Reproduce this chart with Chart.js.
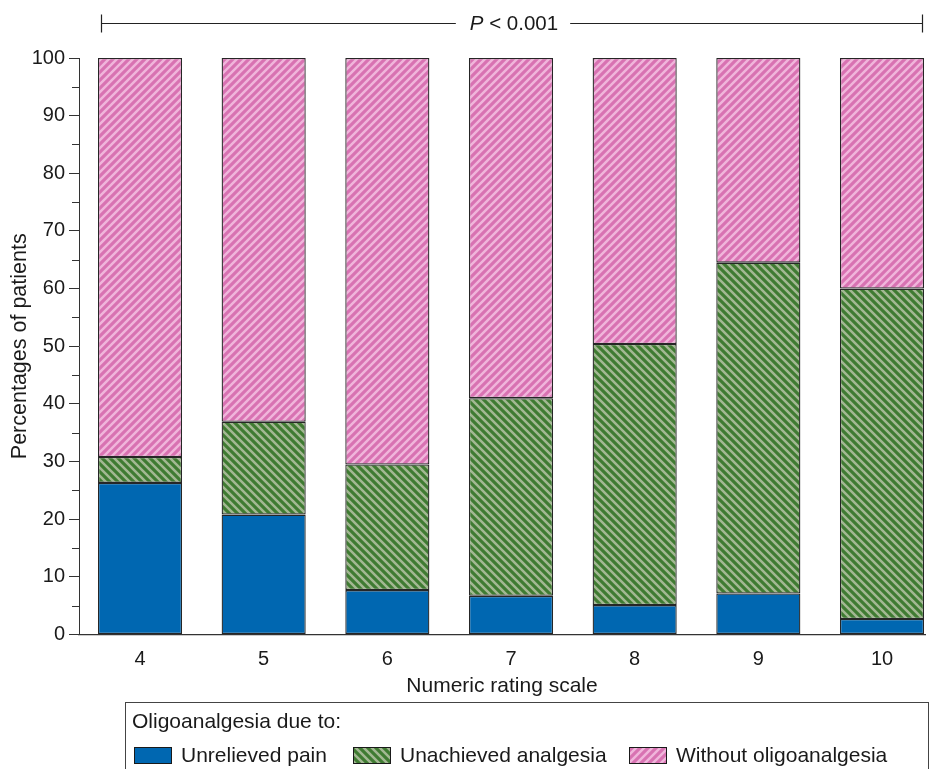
<!DOCTYPE html>
<html><head><meta charset="utf-8">
<script src="https://cdn.jsdelivr.net/npm/chart.js@4.4.0/dist/chart.umd.min.js"></script>
<style>html,body{margin:0;padding:0;background:#fff;overflow:hidden}#wrap{width:933px;height:769px;position:relative}</style>
</head><body><div id="wrap"><canvas id="c"></canvas></div>
<script>
// ---- data ----
const categories = [4, 5, 6, 7, 8, 9, 10];
const seriesNames = ['Unrelieved pain', 'Unachieved analgesia', 'Without oligoanalgesia'];
const unrelievedPain = [26.3, 20.8, 7.7, 6.7, 5.1, 7.1, 2.7];
const unachievedAnalgesia = [4.5, 16.1, 21.8, 34.3, 45.3, 57.4, 57.3];
const withoutOligoanalgesia = [69.2, 63.1, 70.5, 59.0, 49.6, 35.5, 40.0];
const yTickValues = [0, 10, 20, 30, 40, 50, 60, 70, 80, 90, 100];
const xTitle = 'Numeric rating scale';
const yTitle = 'Percentages of patients';
const legendTitle = 'Oligoanalgesia due to:';
const pLabelItalic = 'P';
const pLabelRest = ' < 0.001';

const FONT = '"Liberation Sans", Arial, Helvetica, sans-serif';

function stripes(base, stripe, dir) {
  const s = 8, c = document.createElement('canvas');
  c.width = s; c.height = s;
  const g = c.getContext('2d');
  g.fillStyle = base; g.fillRect(0, 0, s, s);
  g.strokeStyle = stripe; g.lineWidth = 2.5;
  g.beginPath();
  if (dir === '\\') {
    for (let k = -s; k <= s; k += s) { g.moveTo(k - 1, -1); g.lineTo(k + s + 1, s + 1); }
  } else {
    for (let k = -s; k <= s; k += s) { g.moveTo(k - 1, s + 1); g.lineTo(k + s + 1, -1); }
  }
  g.stroke();
  return g.createPattern(c, 'repeat');
}
const blueFill = '#0067b1';
const greenFill = stripes('#3f7b32', '#a3b893', '\\');
const pinkFill = stripes('#d872b2', '#f0b5db', '/');

const toPts = arr => arr.map((v, i) => ({x: categories[i], y: v}));

const decor = {
  id: 'decor',
  afterDraw(chart) {
    const {ctx, chartArea, scales: {x, y}} = chart;
    ctx.save();
    // minor y ticks
    ctx.strokeStyle = '#333'; ctx.lineWidth = 1;
    for (let i = 0; i < yTickValues.length - 1; i++) {
      const v = (yTickValues[i] + yTickValues[i + 1]) / 2;
      const py = Math.round(y.getPixelForValue(v)) + 0.5;
      ctx.beginPath(); ctx.moveTo(chartArea.left - 7, py); ctx.lineTo(chartArea.left, py); ctx.stroke();
    }
    // P-value bracket
    const x0 = Math.round(x.getPixelForValue(categories[0]) - 39) + 0.5;
    const x1 = Math.round(x.getPixelForValue(categories[categories.length - 1]) + 40) + 0.5;
    const ly = 23.5;
    ctx.font = 'italic 20.5px ' + FONT;
    const wP = ctx.measureText(pLabelItalic).width;
    ctx.font = '20.5px ' + FONT;
    const wR = ctx.measureText(pLabelRest).width;
    const tw = wP + wR;
    const cx = (x0 + x1) / 2 + 2;
    const tx = cx - tw / 2;
    ctx.strokeStyle = '#222'; ctx.lineWidth = 1.2;
    ctx.beginPath();
    ctx.moveTo(x0, ly); ctx.lineTo(tx - 14, ly);
    ctx.moveTo(tx + tw + 12, ly); ctx.lineTo(x1, ly);
    ctx.moveTo(x0, ly - 9); ctx.lineTo(x0, ly + 9);
    ctx.moveTo(x1, ly - 9); ctx.lineTo(x1, ly + 9);
    ctx.stroke();
    ctx.fillStyle = '#1a1a1a'; ctx.textBaseline = 'middle'; ctx.textAlign = 'left';
    ctx.font = 'italic 20.5px ' + FONT;
    ctx.fillText(pLabelItalic, tx, ly + 1);
    ctx.font = '20.5px ' + FONT;
    ctx.fillText(pLabelRest, tx + wP, ly + 1);
    // legend box
    const bx = 125.5, by = 702.5, bw = 803;
    ctx.strokeStyle = '#444'; ctx.lineWidth = 1;
    ctx.strokeRect(bx, by, bw, 120);
    ctx.font = '21px ' + FONT;
    ctx.fillStyle = '#1a1a1a';
    ctx.fillText(legendTitle, 132, 722);
    const itemX = [134, 353, 629];
    const sy = 747, sw = 38, sh = 17;
    chart.data.datasets.forEach((ds, i) => {
      const cursor = itemX[i];
      ctx.fillStyle = ds.backgroundColor;
      ctx.fillRect(cursor, sy, sw, sh);
      ctx.strokeStyle = '#1a1a1a'; ctx.lineWidth = 1;
      ctx.strokeRect(cursor + 0.5, sy + 0.5, sw - 1, sh - 1);
      ctx.fillStyle = '#1a1a1a';
      ctx.fillText(ds.label, cursor + sw + 9, sy + sh / 2 + 1);
    });
    ctx.restore();
  }
};

new Chart(document.getElementById('c'), {
  type: 'bar',
  data: {
    datasets: [
      {label: seriesNames[0], data: toPts(unrelievedPain), backgroundColor: blueFill},
      {label: seriesNames[1], data: toPts(unachievedAnalgesia), backgroundColor: greenFill},
      {label: seriesNames[2], data: toPts(withoutOligoanalgesia), backgroundColor: pinkFill}
    ].map(d => Object.assign(d, {borderColor: '#262626', borderWidth: 1.3, borderSkipped: false,
      barPercentage: 0.68, categoryPercentage: 1}))
  },
  options: {
    responsive: true, maintainAspectRatio: false, animation: false,
    layout: {padding: {top: 58, right: 8, bottom: 70.5, left: 0}},
    plugins: {legend: {display: false}, tooltip: {enabled: false}},
    scales: {
      x: {
        type: 'linear', stacked: true, min: 3.5067, max: 10.3477, offset: false,
        afterBuildTicks: s => { s.ticks = categories.map(v => ({value: v})); },
        afterFit: s => { s.height = 64; },
        grid: {display: false, offset: false},
        border: {display: true, color: '#333', width: 1.2},
        ticks: {padding: 5, color: '#1a1a1a', font: {family: FONT, size: 20}, callback: v => String(v)},
        title: {display: true, text: xTitle, color: '#1a1a1a', font: {family: FONT, size: 21}, padding: {top: 0, bottom: 0}}
      },
      y: {
        stacked: true, min: 0, max: 100,
        afterBuildTicks: s => { s.ticks = yTickValues.map(v => ({value: v})); },
        afterFit: s => { s.width = 79; },
        grid: {drawOnChartArea: false, drawTicks: true, tickLength: 10, color: '#333'},
        border: {display: true, color: '#333', width: 1},
        ticks: {padding: 4, color: '#1a1a1a', font: {family: FONT, size: 20}},
        title: {display: true, text: yTitle, color: '#1a1a1a', font: {family: FONT, size: 21.5}, padding: {top: 7.2, bottom: 0}}
      }
    }
  },
  plugins: [decor]
});
</script></body></html>
